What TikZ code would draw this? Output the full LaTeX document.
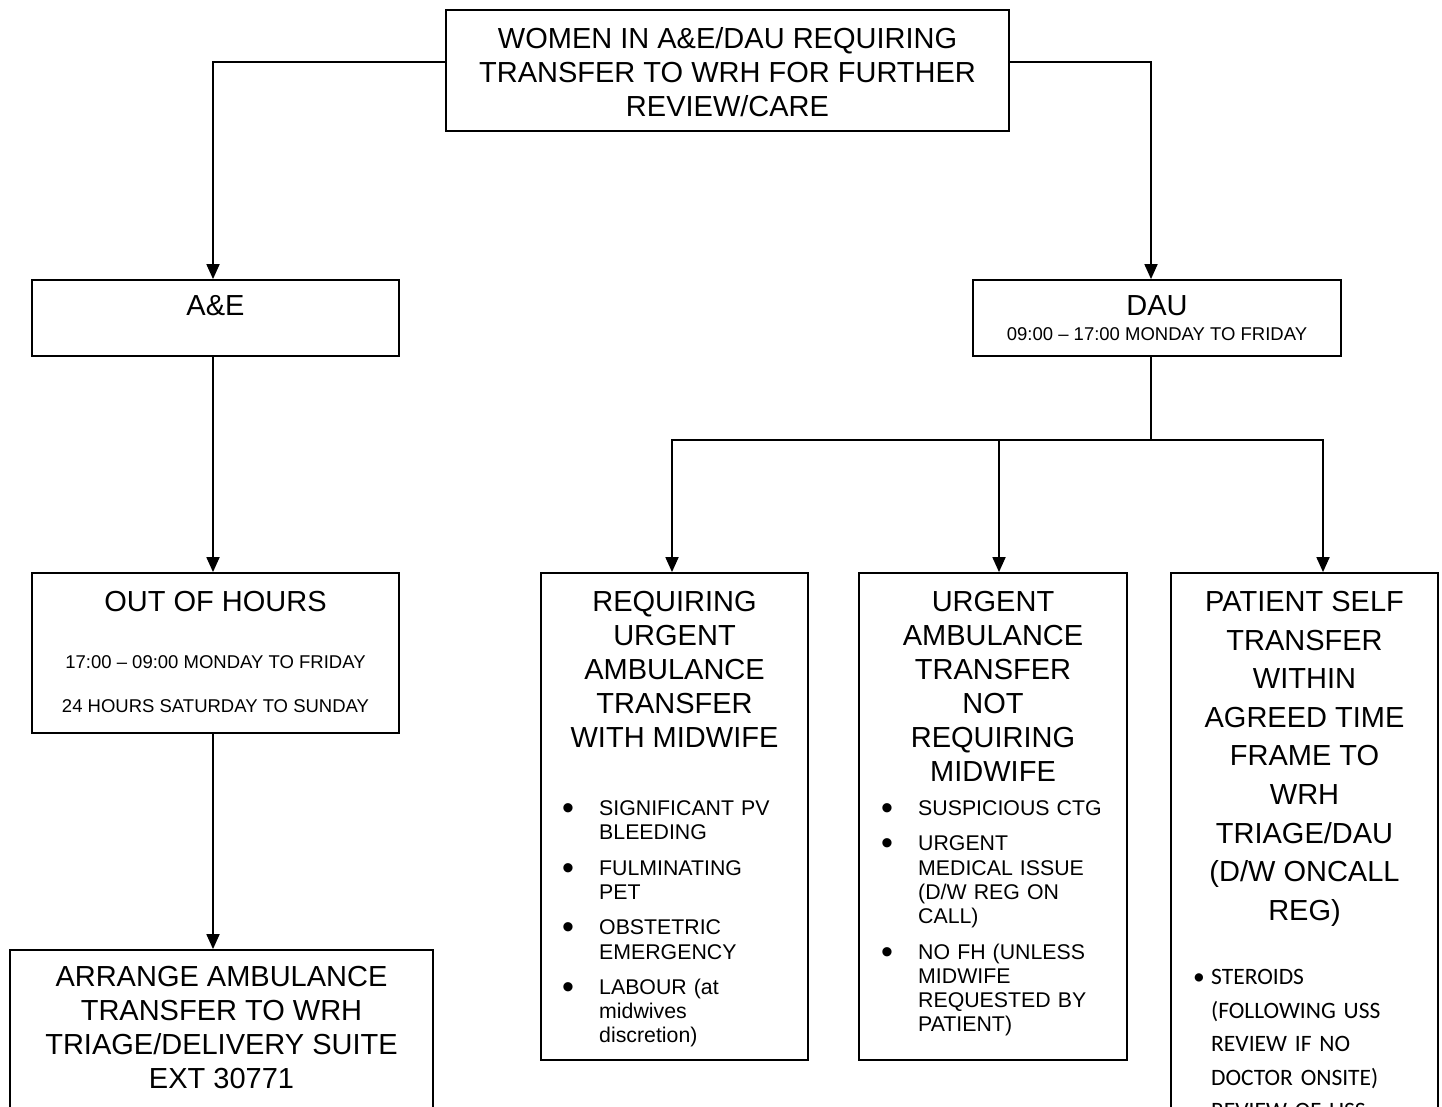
\documentclass[tikz,border=0pt]{standalone}
\usepackage{fontspec}
\setmainfont{Liberation Sans}
\newfontfamily\calibri{Carlito}
\usetikzlibrary{arrows.meta,positioning}

% bullet item: [gap after]{indent}{bullet}{text}
\newcommand{\bitem}[4][11pt]{\par\noindent\hangindent=#2\hangafter=1\makebox[#2][l]{#3}#4\par\vspace{#1}}
\newcommand{\bigdot}{\raisebox{-4pt}{\fontsize{34}{0}\selectfont\textbullet}}

\begin{document}
\begin{tikzpicture}[x=1pt, y=-1pt,
    box/.style={draw, line width=1.8pt, inner sep=0pt},
    big/.style={font=\fontsize{29}{34}\selectfont, align=center, inner sep=0pt, anchor=north},
    small/.style={font=\fontsize{18.5}{22}\selectfont, align=center, inner sep=0pt, anchor=north},
    list/.style={font=\fontsize{21.3}{24.3}\selectfont, text width=230pt, align=left, inner sep=0pt, anchor=north west},
    arr/.style={-{Triangle[length=15pt,width=13pt]}, line width=1.8pt},
    ln/.style={line width=1.8pt}]
    \useasboundingbox (0,0) rectangle (1442,1107);

    % Top box
    \node[box, minimum width=563pt, minimum height=121pt] (top) at (727.5,70.5) {};
    \node[big] (toptxt) at ([yshift=-18pt]top.north) {WOMEN IN A\&E/DAU REQUIRING\\TRANSFER TO WRH FOR FURTHER\\REVIEW/CARE};

    % A&E side
    \node[box, minimum width=367pt, minimum height=76pt] (ae) at (215.5,318) {};
    \node[big] (aetxt) at ([yshift=-16pt]ae.north) {A\&E};

    \node[box, minimum width=367pt, minimum height=160pt] (ooh) at (215.5,653) {};
    \node[big] (oohtxt) at ([yshift=-19pt]ooh.north) {OUT OF HOURS};
    \node[small, font=\fontsize{18.5}{44}\selectfont] (oohtime) at ([yshift=-83pt]ooh.north) {17:00 -- 09:00 MONDAY TO FRIDAY\\24 HOURS SATURDAY TO SUNDAY};

    \node[box, minimum width=423pt, minimum height=190pt] (arrange) at (221.5,1045) {};
    \node[big] (arrangetxt) at ([yshift=-17pt]arrange.north) {ARRANGE AMBULANCE\\TRANSFER TO WRH\\TRIAGE/DELIVERY SUITE\\EXT 30771};

    % DAU side
    \node[box, minimum width=368pt, minimum height=76pt] (dau) at (1157,318) {};
    \node[big] (dautxt) at ([yshift=-16pt]dau.north) {DAU};
    \node[small] (dautime) at ([yshift=-48pt]dau.north) {09:00 -- 17:00 MONDAY TO FRIDAY};

    \node[box, minimum width=267pt, minimum height=487pt] (req) at (674.5,816.5) {};
    \node[big] (reqtxt) at ([yshift=-19pt]req.north) {REQUIRING\\URGENT\\AMBULANCE\\TRANSFER\\WITH MIDWIFE};
    \node[list] (reqlist) at (562,791) {%
        \bitem{37pt}{\bigdot}{SIGNIFICANT PV\newline BLEEDING}%
        \bitem{37pt}{\bigdot}{FULMINATING\newline PET}%
        \bitem{37pt}{\bigdot}{OBSTETRIC\newline EMERGENCY}%
        \bitem{37pt}{\bigdot}{LABOUR (at\newline midwives\newline discretion)}};

    \node[box, minimum width=268pt, minimum height=487pt] (urg) at (993,816.5) {};
    \node[big] (urgtxt) at ([yshift=-19pt]urg.north) {URGENT\\AMBULANCE\\TRANSFER\\NOT\\REQUIRING\\MIDWIFE};
    \node[list] (urglist) at (881,791) {%
        \bitem{37pt}{\bigdot}{SUSPICIOUS CTG}%
        \bitem{37pt}{\bigdot}{URGENT\newline MEDICAL ISSUE\newline (D/W REG ON\newline CALL)}%
        \bitem{37pt}{\bigdot}{NO FH (UNLESS\newline MIDWIFE\newline REQUESTED BY\newline PATIENT)}};

    \node[box, minimum width=267pt, minimum height=627pt] (self) at (1304.5,886.5) {};
    \node[big, font=\fontsize{29}{38.6}\selectfont] (selftxt) at ([yshift=-19pt]self.north) {PATIENT SELF\\TRANSFER\\WITHIN\\AGREED TIME\\FRAME TO\\WRH\\TRIAGE/DAU\\(D/W ONCALL\\REG)};
    \node[list, font=\calibri\fontsize{23.5}{33.5}\selectfont, text width=220pt] (selflist) at (1193,951) {%
        \bitem[0pt]{18pt}{\textbullet}{STEROIDS\newline (FOLLOWING USS\newline REVIEW IF NO\newline DOCTOR ONSITE)}%
        \bitem[0pt]{18pt}{\textbullet}{REVIEW OF USS}};

    % Connectors
    \draw[arr] ([yshift=8.5pt]top.west) -| ([xshift=-2.5pt]ae.north);
    \draw[arr] ([yshift=8.5pt]top.east) -| ([xshift=-6pt]dau.north);
    \draw[arr] ([xshift=-2.5pt]ae.south) -- ([xshift=-2.5pt]ooh.north);
    \draw[arr] ([xshift=-2.5pt]ooh.south) -- ([xshift=-8.5pt]arrange.north);

    \coordinate (split) at (1151,440);
    \draw[ln] ([xshift=-6pt]dau.south) -- (split);
    \draw[arr] (split) -| ([xshift=-2.5pt]req.north);
    \draw[arr] (split) -| ([xshift=6pt]urg.north);
    \draw[arr] (split) -| ([xshift=18.5pt]self.north);
\end{tikzpicture}
\end{document}
